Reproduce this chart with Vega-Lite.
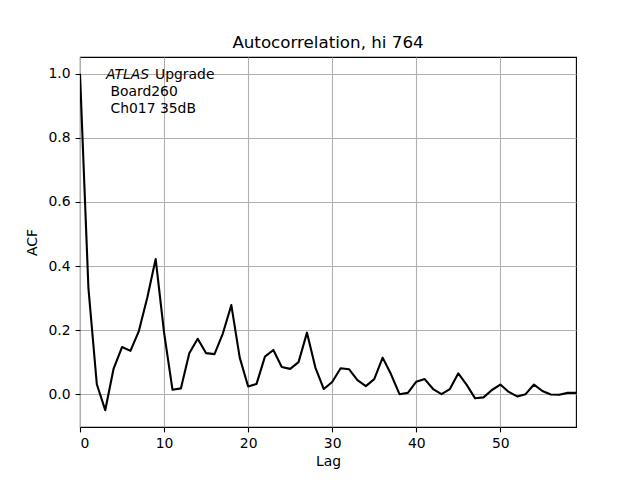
{
  "$schema": "https://vega.github.io/schema/vega-lite/v6.json",
  "width": 496,
  "height": 370,
  "autosize": {"type": "none"},
  "padding": {"left": 80, "top": 57, "right": 64, "bottom": 53},
  "background": "white",
  "title": {"text": "Autocorrelation, hi 764", "font": "DejaVu Sans", "fontSize": 16.7, "fontWeight": "normal", "color": "black", "offset": 5, "anchor": "middle"},
  "config": {
    "view": {"stroke": "black", "strokeWidth": 1.1},
    "axis": {
      "labelFont": "DejaVu Sans", "labelFontSize": 13.9, "labelColor": "black",
      "titleFont": "DejaVu Sans", "titleFontSize": 13.9, "titleColor": "black", "titleFontWeight": "normal",
      "tickColor": "black", "tickSize": 4.9, "tickWidth": 1.1, "labelPadding": 5,
      "domain": false, "gridColor": "#b0b0b0", "gridWidth": 1.1, "gridOpacity": 1
    }
  },
  "data": {"values": [
    {"lag": 0, "acf": 1.0}, {"lag": 1, "acf": 0.332}, {"lag": 2, "acf": 0.031}, {"lag": 3, "acf": -0.05},
    {"lag": 4, "acf": 0.08}, {"lag": 5, "acf": 0.147}, {"lag": 6, "acf": 0.135}, {"lag": 7, "acf": 0.197},
    {"lag": 8, "acf": 0.301}, {"lag": 9, "acf": 0.422}, {"lag": 10, "acf": 0.192}, {"lag": 11, "acf": 0.014},
    {"lag": 12, "acf": 0.018}, {"lag": 13, "acf": 0.128}, {"lag": 14, "acf": 0.173}, {"lag": 15, "acf": 0.128},
    {"lag": 16, "acf": 0.125}, {"lag": 17, "acf": 0.19}, {"lag": 18, "acf": 0.278}, {"lag": 19, "acf": 0.114},
    {"lag": 20, "acf": 0.024}, {"lag": 21, "acf": 0.032}, {"lag": 22, "acf": 0.117}, {"lag": 23, "acf": 0.138},
    {"lag": 24, "acf": 0.085}, {"lag": 25, "acf": 0.079}, {"lag": 26, "acf": 0.1}, {"lag": 27, "acf": 0.192},
    {"lag": 28, "acf": 0.083}, {"lag": 29, "acf": 0.016}, {"lag": 30, "acf": 0.038}, {"lag": 31, "acf": 0.081},
    {"lag": 32, "acf": 0.078}, {"lag": 33, "acf": 0.044}, {"lag": 34, "acf": 0.025}, {"lag": 35, "acf": 0.047},
    {"lag": 36, "acf": 0.114}, {"lag": 37, "acf": 0.062}, {"lag": 38, "acf": 0.0}, {"lag": 39, "acf": 0.004},
    {"lag": 40, "acf": 0.039}, {"lag": 41, "acf": 0.047}, {"lag": 42, "acf": 0.016}, {"lag": 43, "acf": 0.0},
    {"lag": 44, "acf": 0.016}, {"lag": 45, "acf": 0.065}, {"lag": 46, "acf": 0.029}, {"lag": 47, "acf": -0.013},
    {"lag": 48, "acf": -0.01}, {"lag": 49, "acf": 0.013}, {"lag": 50, "acf": 0.03}, {"lag": 51, "acf": 0.007},
    {"lag": 52, "acf": -0.007}, {"lag": 53, "acf": 0.0}, {"lag": 54, "acf": 0.03}, {"lag": 55, "acf": 0.01},
    {"lag": 56, "acf": -0.001}, {"lag": 57, "acf": -0.002}, {"lag": 58, "acf": 0.004}, {"lag": 59, "acf": 0.004}
  ]},
  "layer": [
    {
      "mark": {"type": "line", "color": "black", "strokeWidth": 2.1, "strokeJoin": "round", "clip": true},
      "encoding": {
        "x": {"field": "lag", "type": "quantitative", "title": "Lag",
              "scale": {"domain": [0, 59], "nice": false, "zero": false},
              "axis": {"values": [0, 10, 20, 30, 40, 50], "format": "d", "grid": true, "titlePadding": 4}},
        "y": {"field": "acf", "type": "quantitative", "title": "ACF",
              "scale": {"domain": [-0.1025, 1.0525], "nice": false, "zero": false},
              "axis": {"values": [0, 0.2, 0.4, 0.6, 0.8, 1.0], "format": ".1f", "grid": true, "titlePadding": 9}}
      }
    },
    {
      "data": {"values": [{}]},
      "mark": {"type": "text", "text": "ATLAS", "font": "DejaVu Sans", "fontStyle": "italic", "fontSize": 13.9, "align": "left", "baseline": "alphabetic", "color": "black"},
      "encoding": {"x": {"datum": 3.1, "type": "quantitative"}, "y": {"datum": 0.983, "type": "quantitative"}}
    },
    {
      "data": {"values": [{}]},
      "mark": {"type": "text", "text": "Upgrade", "font": "DejaVu Sans", "fontSize": 13.9, "align": "left", "baseline": "alphabetic", "color": "black", "dx": 49},
      "encoding": {"x": {"datum": 3.1, "type": "quantitative"}, "y": {"datum": 0.983, "type": "quantitative"}}
    },
    {
      "data": {"values": [{}]},
      "mark": {"type": "text", "text": "Board260", "font": "DejaVu Sans", "fontSize": 13.9, "align": "left", "baseline": "alphabetic", "color": "black", "dx": 4.4},
      "encoding": {"x": {"datum": 3.1, "type": "quantitative"}, "y": {"datum": 0.93, "type": "quantitative"}}
    },
    {
      "data": {"values": [{}]},
      "mark": {"type": "text", "text": "Ch017 35dB", "font": "DejaVu Sans", "fontSize": 13.9, "align": "left", "baseline": "alphabetic", "color": "black", "dx": 4.4},
      "encoding": {"x": {"datum": 3.1, "type": "quantitative"}, "y": {"datum": 0.877, "type": "quantitative"}}
    }
  ]
}
